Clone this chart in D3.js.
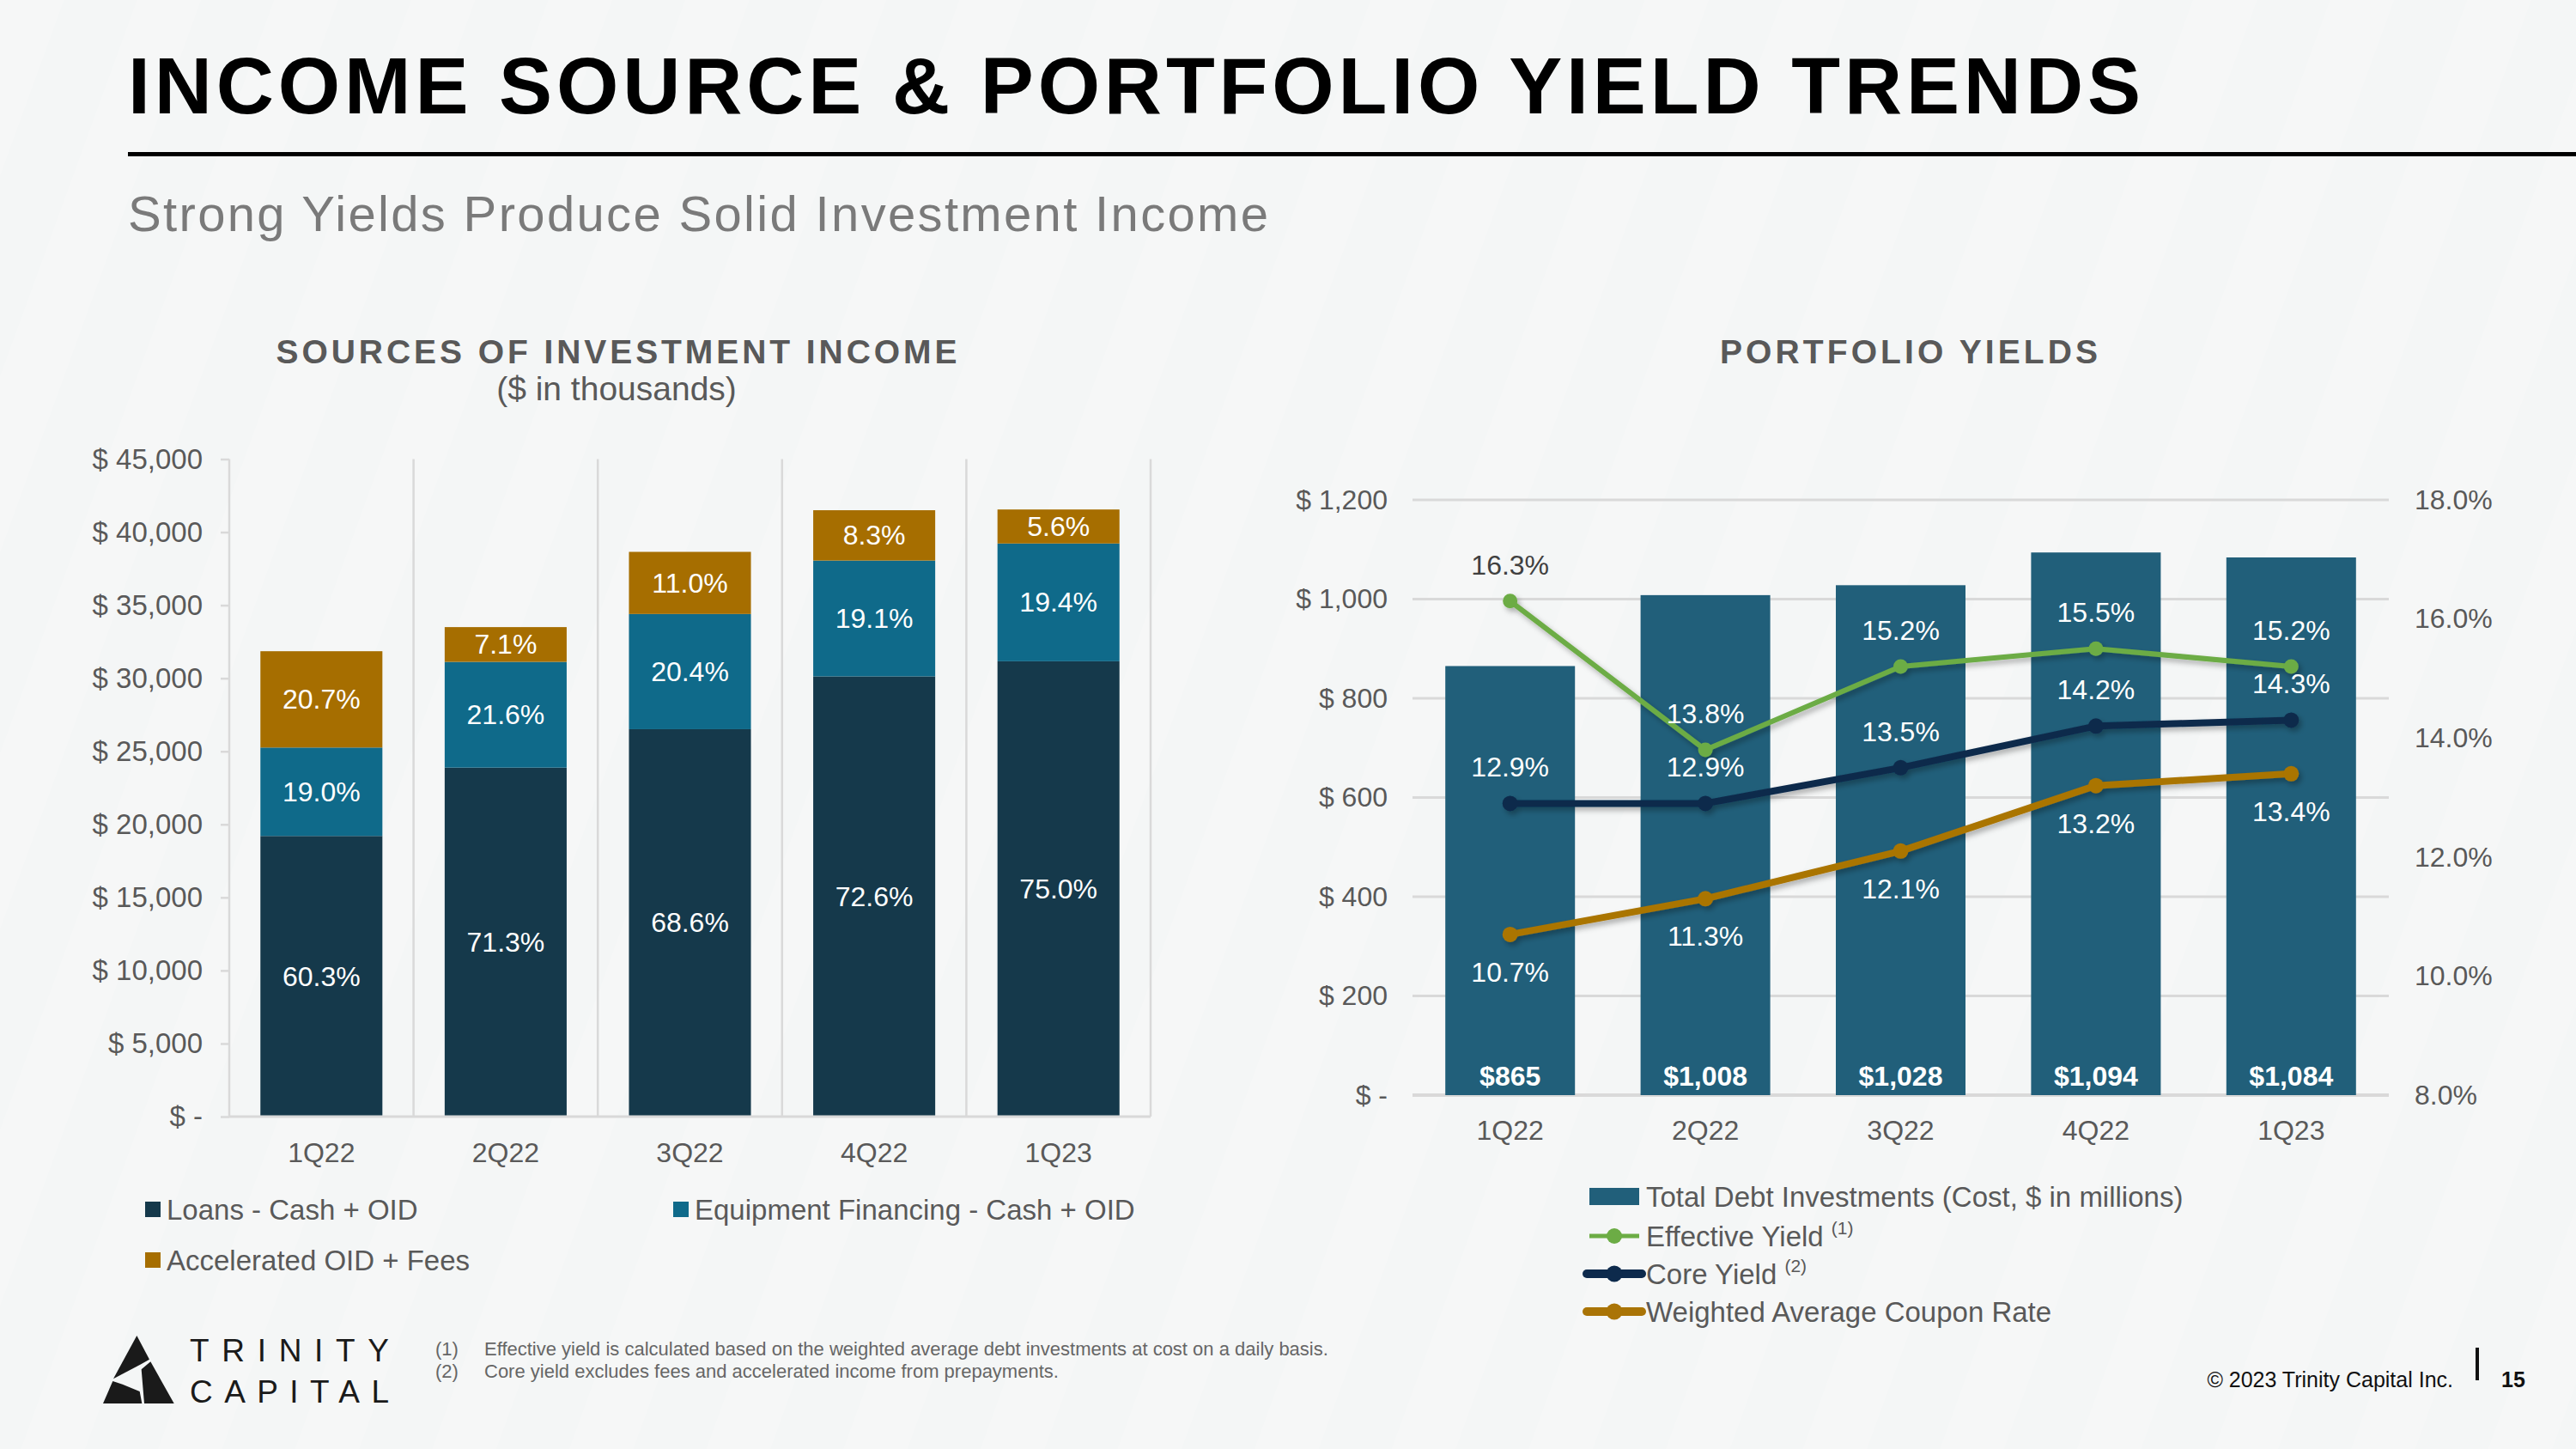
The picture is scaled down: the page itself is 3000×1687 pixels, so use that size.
<!DOCTYPE html>
<html>
<head>
<meta charset="utf-8">
<script src="https://cdn.jsdelivr.net/npm/d3@7"></script>
<style>
  html, body { margin: 0; padding: 0; background: #f4f6f6; }
  svg { display: block; }
  text { font-family: "Liberation Sans", Arial, Helvetica, sans-serif; }
</style>
</head>
<body>
<svg id="chart" width="3000" height="1687"></svg>
<script>
// ---------------- DATA ----------------
const quarters = ["1Q22", "2Q22", "3Q22", "4Q22", "1Q23"];

// Sources of investment income ($ in thousands)
const loansCashOID      = [19206, 23886, 26514, 30129, 31163];
const equipmentCashOID  = [6052, 7236, 7885, 7927, 8061];
const acceleratedOID    = [6593, 2379, 4252, 3445, 2327];
const loansPctLabels    = ["60.3%", "71.3%", "68.6%", "72.6%", "75.0%"];
const equipPctLabels    = ["19.0%", "21.6%", "20.4%", "19.1%", "19.4%"];
const accelPctLabels    = ["20.7%", "7.1%", "11.0%", "8.3%", "5.6%"];
const incomeTicks       = [0, 5000, 10000, 15000, 20000, 25000, 30000, 35000, 40000, 45000];

// Portfolio yields
const totalDebtInvestments = [865, 1008, 1028, 1094, 1084];   // $ millions
const effectiveYield       = [16.3, 13.8, 15.2, 15.5, 15.2];  // %
const coreYield            = [12.9, 12.9, 13.5, 14.2, 14.3];  // %
const couponRate           = [10.7, 11.3, 12.1, 13.2, 13.4];  // %
const debtTicks            = [0, 200, 400, 600, 800, 1000, 1200];
const yieldTicks           = [8, 10, 12, 14, 16, 18];

const footnotes = [
  ["(1)", "Effective yield is calculated based on the weighted average debt investments at cost on a daily basis."],
  ["(2)", "Core yield excludes fees and accelerated income from prepayments."]
];

// ---------------- STYLE ----------------
const C = {
  loans: "#15394b", equip: "#0f6a8a", accel: "#a66e00",
  bar: "#215f7a", eff: "#6cac45", core: "#0d2a4c", coupon: "#aa7406",
  grid: "#d9d9d9", axisText: "#595959", title: "#595959"
};
const FONT = "'Liberation Sans', Arial, Helvetica, sans-serif";

const svg = d3.select("#chart");

// background with very faint diagonal stripes
const defs = svg.append("defs");
const pat = defs.append("pattern").attr("id", "stripes").attr("patternUnits", "userSpaceOnUse")
  .attr("width", 150).attr("height", 150).attr("patternTransform", "rotate(20)");
pat.append("rect").attr("width", 150).attr("height", 150).attr("fill", "#f4f6f6");
pat.append("rect").attr("x", 0).attr("width", 70).attr("height", 150).attr("fill", "#f6f7f7");
svg.append("rect").attr("width", 3000).attr("height", 1687).attr("fill", "url(#stripes)");

const shadow = defs.append("filter").attr("id", "shadow").attr("x", "-10%").attr("y", "-10%").attr("width", "130%").attr("height", "140%");
shadow.append("feDropShadow").attr("dx", 3).attr("dy", 4).attr("stdDeviation", 3)
  .attr("flood-color", "#000").attr("flood-opacity", 0.3);

// ---------------- HEADER ----------------
svg.append("text").attr("x", 149).attr("y", 132)
  .attr("font-size", 93).attr("font-weight", "bold").attr("fill", "#000")
  .attr("textLength", 2344).attr("lengthAdjust", "spacing")
  .text("INCOME SOURCE & PORTFOLIO YIELD TRENDS");
svg.append("rect").attr("x", 149).attr("y", 177).attr("width", 2851).attr("height", 5).attr("fill", "#000");
svg.append("text").attr("x", 149).attr("y", 269)
  .attr("font-size", 58).attr("fill", "#7a7a7a")
  .attr("textLength", 1328).attr("lengthAdjust", "spacing")
  .text("Strong Yields Produce Solid Investment Income");

// ---------------- LEFT CHART ----------------
svg.append("text").attr("x", 718).attr("y", 423).attr("text-anchor", "middle")
  .attr("font-size", 39).attr("font-weight", "bold").attr("fill", C.title)
  .attr("textLength", 793).attr("lengthAdjust", "spacing")
  .text("SOURCES OF INVESTMENT INCOME");
svg.append("text").attr("x", 718).attr("y", 466).attr("text-anchor", "middle")
  .attr("font-size", 39).attr("fill", C.title).text("($ in thousands)");

const xL = d3.scaleBand().domain(quarters).range([267, 1340]).paddingInner(0.338).paddingOuter(0.169);
const yL = d3.scaleLinear().domain([0, 45000]).range([1300, 534.5]);

const gL = svg.append("g");
// vertical category separators
const gapL = (xL.step() - xL.bandwidth()) / 2;
const seps = quarters.map(q => xL(q) - gapL).concat([xL(quarters[quarters.length - 1]) + xL.bandwidth() + gapL]);
gL.selectAll("line.sep").data(seps).join("line")
  .attr("x1", d => d).attr("x2", d => d).attr("y1", yL(45000)).attr("y2", yL(0))
  .attr("stroke", C.grid).attr("stroke-width", 2.5);

// y axis
const axL = gL.append("g").attr("transform", `translate(${xL.range()[0]},0)`)
  .call(d3.axisLeft(yL).tickValues(incomeTicks).tickSize(10).tickSizeOuter(0).tickPadding(21)
    .tickFormat(d => d === 0 ? "$ -" : "$ " + d3.format(",")(d)));
axL.select(".domain").remove();
axL.selectAll(".tick line").attr("stroke", C.grid).attr("stroke-width", 2.5);
axL.selectAll(".tick text").attr("font-size", 33).attr("fill", C.axisText).attr("font-family", FONT);

// stacked bars
const rowsL = quarters.map((q, i) => ({ q, loans: loansCashOID[i], equip: equipmentCashOID[i], accel: acceleratedOID[i], i }));
const keysL = ["loans", "equip", "accel"];
const labelsL = { loans: loansPctLabels, equip: equipPctLabels, accel: accelPctLabels };
const stacked = d3.stack().keys(keysL)(rowsL);
const layers = gL.selectAll("g.layer").data(stacked).join("g").attr("fill", d => C[d.key]);
layers.selectAll("rect").data(d => d).join("rect")
  .attr("x", d => xL(d.data.q)).attr("width", xL.bandwidth())
  .attr("y", d => yL(d[1])).attr("height", d => yL(d[0]) - yL(d[1]));
stacked.forEach(layer => {
  gL.selectAll(null).data(layer).join("text")
    .attr("x", d => xL(d.data.q) + xL.bandwidth() / 2)
    .attr("y", d => (yL(d[0]) + yL(d[1])) / 2 + 11)
    .attr("text-anchor", "middle").attr("font-size", 32).attr("fill", "#fff")
    .text(d => labelsL[layer.key][d.data.i]);
});

// x axis baseline
gL.append("line").attr("x1", xL.range()[0]).attr("x2", xL.range()[1]).attr("y1", yL(0)).attr("y2", yL(0))
  .attr("stroke", C.grid).attr("stroke-width", 3);
gL.selectAll("text.xl").data(quarters).join("text")
  .attr("x", d => xL(d) + xL.bandwidth() / 2).attr("y", 1353)
  .attr("text-anchor", "middle").attr("font-size", 32).attr("fill", C.axisText).text(d => d);

// legend left
const legL = [
  { key: "loans", label: "Loans - Cash + OID", x: 169, y: 1408 },
  { key: "equip", label: "Equipment Financing - Cash + OID", x: 784, y: 1408 },
  { key: "accel", label: "Accelerated OID + Fees", x: 169, y: 1467 }
];
const lgL = svg.append("g").selectAll("g").data(legL).join("g");
lgL.append("rect").attr("x", d => d.x).attr("y", d => d.y - 9).attr("width", 18).attr("height", 18).attr("fill", d => C[d.key]);
lgL.append("text").attr("x", d => d.x + 25).attr("y", d => d.y + 12).attr("font-size", 33).attr("fill", C.axisText).text(d => d.label);

// ---------------- RIGHT CHART ----------------
svg.append("text").attr("x", 2223).attr("y", 423).attr("text-anchor", "middle")
  .attr("font-size", 39).attr("font-weight", "bold").attr("fill", C.title)
  .attr("textLength", 440).attr("lengthAdjust", "spacing")
  .text("PORTFOLIO YIELDS");

const xR = d3.scaleBand().domain(quarters).range([1645, 2782]).paddingInner(0.336).paddingOuter(0.168);
const yR = d3.scaleLinear().domain([0, 1200]).range([1275, 582]);
const yP = d3.scaleLinear().domain([8, 18]).range([1275, 582]);
const gR = svg.append("g");

// gridlines
gR.selectAll("line.grid").data(debtTicks).join("line")
  .attr("x1", xR.range()[0]).attr("x2", xR.range()[1]).attr("y1", d => yR(d)).attr("y2", d => yR(d))
  .attr("stroke", C.grid).attr("stroke-width", d => d === 0 ? 4 : 3);

// left axis
const axR1 = gR.append("g").attr("transform", `translate(${xR.range()[0]},0)`)
  .call(d3.axisLeft(yR).tickValues(debtTicks).tickSize(0).tickPadding(29)
    .tickFormat(d => d === 0 ? "$ -" : "$ " + d3.format(",")(d)));
axR1.select(".domain").remove();
axR1.selectAll(".tick text").attr("font-size", 32).attr("fill", C.axisText).attr("font-family", FONT);
// right axis
const axR2 = gR.append("g").attr("transform", `translate(${xR.range()[1]},0)`)
  .call(d3.axisRight(yP).tickValues(yieldTicks).tickSize(0).tickPadding(30)
    .tickFormat(d => d3.format(".1f")(d) + "%"));
axR2.select(".domain").remove();
axR2.selectAll(".tick text").attr("font-size", 32).attr("fill", C.axisText).attr("font-family", FONT);

// bars
gR.selectAll("rect.bar").data(quarters).join("rect")
  .attr("x", d => xR(d)).attr("width", xR.bandwidth())
  .attr("y", (d, i) => yR(totalDebtInvestments[i]))
  .attr("height", (d, i) => yR(0) - yR(totalDebtInvestments[i]))
  .attr("fill", C.bar);
gR.selectAll("text.barlab").data(quarters).join("text")
  .attr("x", d => xR(d) + xR.bandwidth() / 2).attr("y", 1264)
  .attr("text-anchor", "middle").attr("font-size", 32).attr("font-weight", "bold").attr("fill", "#fff")
  .text((d, i) => "$" + d3.format(",")(totalDebtInvestments[i]));

// lines
const cx = q => xR(q) + xR.bandwidth() / 2;
const series = [
  { vals: couponRate, color: C.coupon, width: 8, r: 9, pos: "below" },
  { vals: coreYield, color: C.core, width: 8, r: 9, pos: "above" },
  { vals: effectiveYield, color: C.eff, width: 6, r: 8.5, pos: "above" }
];
const line = d3.line().x(d => cx(d.q)).y(d => yP(d.v));
series.forEach(s => {
  const pts = quarters.map((q, i) => ({ q, v: s.vals[i], i }));
  const g = gR.append("g").attr("filter", "url(#shadow)");
  g.append("path").datum(pts).attr("d", line).attr("fill", "none")
    .attr("stroke", s.color).attr("stroke-width", s.width).attr("stroke-linejoin", "round");
  g.selectAll("circle").data(pts).join("circle")
    .attr("cx", d => cx(d.q)).attr("cy", d => yP(d.v)).attr("r", s.r).attr("fill", s.color);
});
series.forEach(s => {
  const pts = quarters.map((q, i) => ({ q, v: s.vals[i], i }));
  gR.selectAll(null).data(pts).join("text")
    .attr("x", d => cx(d.q))
    .attr("y", d => yP(d.v) + (s.pos === "above" ? -42 : 44) + 11)
    .attr("text-anchor", "middle").attr("font-size", 32)
    .attr("fill", d => (yP(d.v) - 42) < yR(totalDebtInvestments[d.i]) ? "#404040" : "#fff")
    .text(d => d3.format(".1f")(d.v) + "%");
});

gR.selectAll("text.xr").data(quarters).join("text")
  .attr("x", d => cx(d)).attr("y", 1327)
  .attr("text-anchor", "middle").attr("font-size", 32).attr("fill", C.axisText).text(d => d);

// legend right
const lgR = svg.append("g");
lgR.append("rect").attr("x", 1851).attr("y", 1383).attr("width", 58).attr("height", 20).attr("fill", C.bar);
lgR.append("text").attr("x", 1917).attr("y", 1405).attr("font-size", 33).attr("fill", C.axisText)
  .text("Total Debt Investments (Cost, $ in millions)");
const legLines = [
  { label: "Effective Yield ", sup: "(1)", color: C.eff, w: 5, r: 9, y: 1439, x1: 1851, x2: 1909 },
  { label: "Core Yield ", sup: "(2)", color: C.core, w: 10, r: 9.5, y: 1483, x1: 1848, x2: 1912 },
  { label: "Weighted Average Coupon Rate", sup: "", color: C.coupon, w: 10, r: 9.5, y: 1527, x1: 1848, x2: 1912 }
];
legLines.forEach(l => {
  lgR.append("line").attr("x1", l.x1).attr("x2", l.x2).attr("y1", l.y).attr("y2", l.y)
    .attr("stroke", l.color).attr("stroke-width", l.w).attr("stroke-linecap", l.w > 6 ? "round" : "butt");
  lgR.append("circle").attr("cx", (l.x1 + l.x2) / 2).attr("cy", l.y).attr("r", l.r).attr("fill", l.color);
  const t = lgR.append("text").attr("x", 1917).attr("y", l.y + 12).attr("font-size", 33).attr("fill", C.axisText);
  t.append("tspan").text(l.label);
  if (l.sup) t.append("tspan").attr("font-size", 21).attr("dy", -14).text(l.sup);
});

// ---------------- FOOTER ----------------
const logo = svg.append("g").attr("fill", "#1a1a1a");
const lp = pts => "M" + pts.map(p => [100 + p[0] / 3, 1540 + p[1] / 3].join(",")).join("L") + "Z";
logo.append("path").attr("d", lp([[178, 45], [222, 128], [190, 146], [96, 196]]));
logo.append("path").attr("d", lp([[226, 136], [308, 282], [204, 282], [194, 163]]));
logo.append("path").attr("d", lp([[94, 204], [60, 282], [196, 282], [188, 240], [128, 215]]));
svg.append("text").attr("x", 221).attr("y", 1585).attr("font-size", 37).attr("font-weight", 500)
  .attr("font-family", "Lato, 'Liberation Sans', sans-serif").attr("fill", "#1a1a1a")
  .attr("textLength", 232).attr("lengthAdjust", "spacing").text("TRINITY");
svg.append("text").attr("x", 221).attr("y", 1633).attr("font-size", 37).attr("font-weight", 500)
  .attr("font-family", "Lato, 'Liberation Sans', sans-serif").attr("fill", "#1a1a1a")
  .attr("textLength", 232).attr("lengthAdjust", "spacing").text("CAPITAL");

footnotes.forEach((f, i) => {
  svg.append("text").attr("x", 507).attr("y", 1578 + i * 26).attr("font-size", 22).attr("fill", "#666").text(f[0]);
  svg.append("text").attr("x", 564).attr("y", 1578 + i * 26).attr("font-size", 22).attr("fill", "#666").text(f[1]);
});

svg.append("text").attr("x", 2857).attr("y", 1615).attr("text-anchor", "end").attr("font-size", 25)
  .attr("fill", "#111").text("© 2023 Trinity Capital Inc.");
svg.append("rect").attr("x", 2883).attr("y", 1569).attr("width", 4).attr("height", 38).attr("fill", "#111");
svg.append("text").attr("x", 2913).attr("y", 1615).attr("font-size", 25).attr("font-weight", "bold")
  .attr("fill", "#111").text("15");
</script>
</body>
</html>
